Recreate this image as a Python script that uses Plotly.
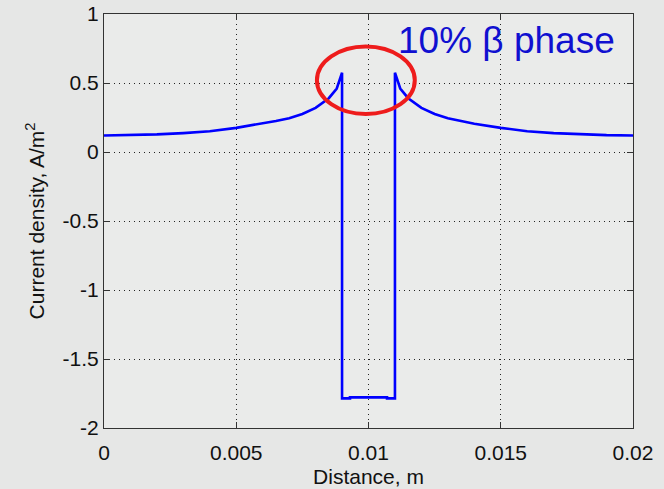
import plotly.graph_objects as go

# Current density profile across the alpha/beta phase layer
distance_m = [0.0, 0.001, 0.002, 0.003, 0.004, 0.005, 0.006, 0.0065, 0.007,
              0.0075, 0.008, 0.0085, 0.0088, 0.009,
              0.009, 0.0093, 0.0093, 0.0107, 0.0107, 0.011,
              0.011, 0.0112, 0.0115, 0.012, 0.0125, 0.013, 0.0135, 0.014,
              0.015, 0.016, 0.017, 0.018, 0.019, 0.02]
current_density = [0.12, 0.122, 0.128, 0.137, 0.15, 0.175, 0.205, 0.225, 0.245,
                   0.275, 0.32, 0.39, 0.46, 0.575,
                   -1.785, -1.785, -1.778, -1.778, -1.785, -1.785,
                   0.575, 0.46, 0.39, 0.32, 0.275, 0.245, 0.225, 0.205,
                   0.175, 0.15, 0.137, 0.128, 0.122, 0.12]

x_ticks = [0, 0.005, 0.01, 0.015, 0.02]
x_tick_labels = ["0", "0.005", "0.01", "0.015", "0.02"]
y_ticks = [1, 0.5, 0, -0.5, -1, -1.5, -2]
y_tick_labels = ["1", "0.5", "0", "-0.5", "-1", "-1.5", "-2"]

# Highlight ring around the peaks at the phase boundaries
ring_center = (0.0099, 0.52)
ring_half = (0.00185, 0.245)

font_family = "Liberation Sans, Arial, sans-serif"

fig = go.Figure()
fig.add_trace(go.Scatter(
    x=distance_m, y=current_density, mode="lines",
    line=dict(color="#0000ff", width=2.6),
    hoverinfo="skip", showlegend=False,
))

fig.add_shape(
    type="circle", xref="x", yref="y",
    x0=ring_center[0] - ring_half[0], x1=ring_center[0] + ring_half[0],
    y0=ring_center[1] - ring_half[1], y1=ring_center[1] + ring_half[1],
    line=dict(color="#ee1c1c", width=4),
)

fig.add_annotation(
    x=0.0194, y=0.81, xref="x", yref="y", xanchor="right", yanchor="middle",
    text="10% \u03b2 phase", showarrow=False,
    font=dict(family=font_family, size=37, color="#1010d0"),
)

axis_common = dict(
    showline=True, linecolor="#333333", linewidth=1.2, mirror="ticks",
    ticks="inside", ticklen=6, tickcolor="#333333",
    showgrid=True, gridcolor="#222222", gridwidth=1, griddash="1px,4px",
    zeroline=False, automargin=False,
    tickfont=dict(family=font_family, size=21, color="#111111"),
)

fig.update_xaxes(
    range=[0, 0.02], tickvals=x_ticks, ticktext=x_tick_labels,
    ticklabelstandoff=6,
    title=dict(text="Distance, m", standoff=6,
               font=dict(family=font_family, size=21, color="#111111")),
    **axis_common,
)
fig.update_yaxes(
    range=[-2, 1], tickvals=y_ticks, ticktext=y_tick_labels,
    title=dict(text="Current density, A/m<sup>2</sup>", standoff=12,
               font=dict(family=font_family, size=21, color="#111111")),
    **axis_common,
)

fig.update_layout(
    width=664, height=489,
    margin=dict(l=104, r=31, t=14, b=61),
    paper_bgcolor="#e6e7e6", plot_bgcolor="#eaebea",
)

fig.write_html("out.html")
